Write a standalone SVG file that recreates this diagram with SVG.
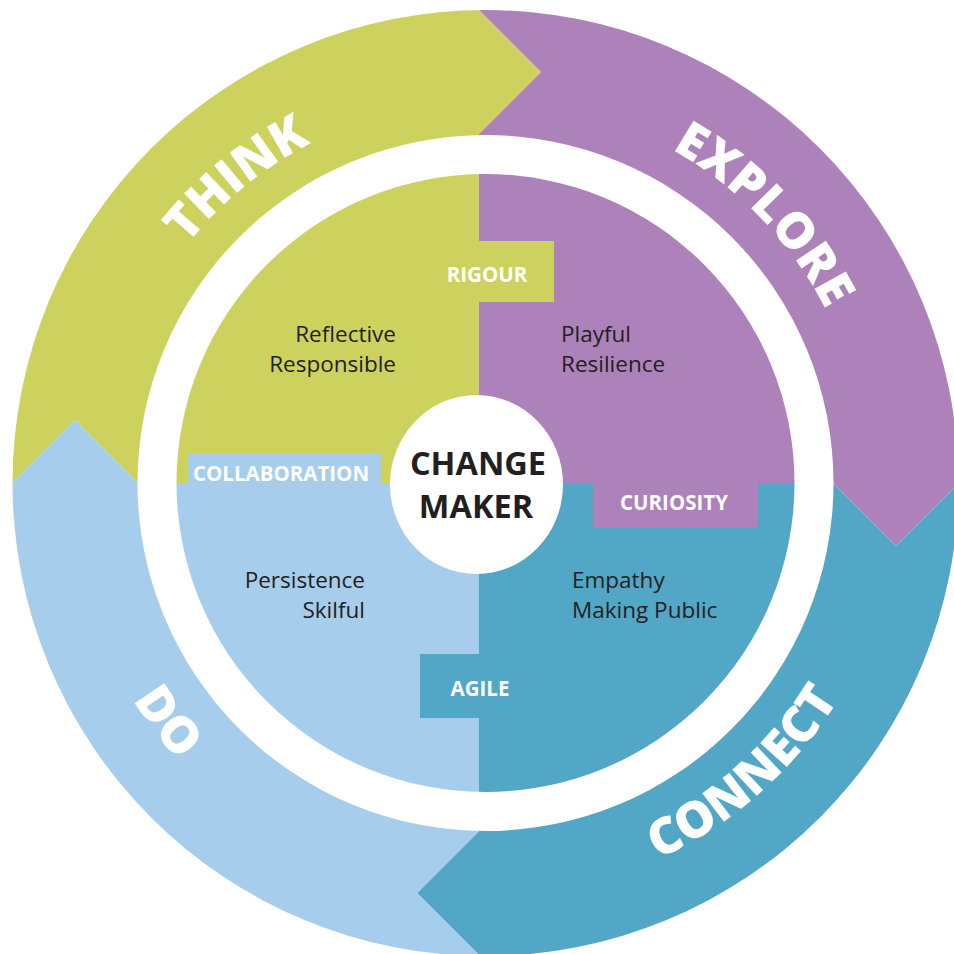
<svg xmlns="http://www.w3.org/2000/svg" width="954" height="954" viewBox="0 0 954 954">
<style>
.g{fill:#CDD25F}.p{fill:#AD81B9}.lb{fill:#A6CDEB}.db{fill:#52A6C6}
.big{font-family:"Open Sans","Liberation Sans",sans-serif;font-weight:800;font-size:50px;fill:#fff;text-anchor:middle}
.lab{font-family:"Open Sans","Liberation Sans",sans-serif;font-weight:700;font-size:20.5px;fill:#fff;text-anchor:middle}
.tr{font-family:"Open Sans","Liberation Sans",sans-serif;font-size:22.5px;fill:#231F20}
.end{text-anchor:end}
.cm{font-family:"Open Sans","Liberation Sans",sans-serif;font-weight:700;font-size:32.5px;fill:#231F20;text-anchor:middle}
</style>
<defs>
<clipPath id="outer"><circle cx="485.5" cy="483" r="473"/></clipPath>
<clipPath id="inner"><circle cx="485.5" cy="483" r="309"/></clipPath>
<path id="topArc" d="M103.5 483 A382 382 0 0 1 867.5 483"/>
<path id="botArc" d="M71.5 483 A414 414 0 0 0 899.5 483"/>
</defs>
<rect width="954" height="954" fill="#fff"/>
<g id="ring">
<g id="think"><polygon class="g" clip-path="url(#outer)" points="479,483 138,483 75,420 12,483 -100,483 -100,-100 369,-100 541,72 479,134"/></g>
<g id="explore"><polygon class="p" clip-path="url(#outer)" points="479,483 479,134 541,72 369,-100 1100,-100 1100,483 959,483 896,546 833,483"/></g>
<g id="connect"><polygon class="db" clip-path="url(#outer)" points="479,483 833,483 896,546 959,483 1100,483 1100,1100 624,1100 417,893 479,831"/></g>
<g id="do"><polygon class="lb" clip-path="url(#outer)" points="479,483 479,831 417,893 624,1100 -100,1100 -100,483 12,483 75,420 138,483"/></g>
<circle cx="485.5" cy="483" r="348" fill="#fff"/>
<text class="big"><textPath href="#topArc" startOffset="28.2%">THINK</textPath></text>
<text class="big"><textPath href="#topArc" startOffset="75.6%">EXPLORE</textPath></text>
<text class="big"><textPath href="#botArc" startOffset="20.5%">DO</textPath></text>
<text class="big"><textPath href="#botArc" startOffset="73.1%">CONNECT</textPath></text>
</g>
<g id="quadrants" clip-path="url(#inner)">
<rect class="g" x="100" y="100" width="379" height="383"/>
<rect class="p" x="479" y="100" width="421" height="383"/>
<rect class="lb" x="100" y="483" width="379" height="417"/>
<rect class="db" x="479" y="483" width="421" height="417"/>
</g>
<g id="rigour"><rect class="g" x="420" y="241" width="134" height="61"/><text class="lab" x="487" y="282">RIGOUR</text></g>
<g id="curiosity"><rect class="p" x="593" y="483" width="165" height="44"/><text class="lab" x="674" y="510">CURIOSITY</text></g>
<g id="collaboration"><rect class="lb" x="188" y="453" width="193" height="30"/><text class="lab" x="281" y="481">COLLABORATION</text></g>
<g id="agile"><rect class="db" x="420" y="654" width="120" height="64"/><text class="lab" x="480" y="696">AGILE</text></g>
<g id="traits">
<text class="tr end" x="396" y="342">Reflective</text>
<text class="tr end" x="396" y="372">Responsible</text>
<text class="tr" x="561" y="342">Playful</text>
<text class="tr" x="561" y="372">Resilience</text>
<text class="tr end" x="365" y="588">Persistence</text>
<text class="tr end" x="365" y="618">Skilful</text>
<text class="tr" x="572" y="588">Empathy</text>
<text class="tr" x="572" y="618">Making Public</text>
</g>
<g id="changemaker">
<ellipse cx="476.5" cy="484.5" rx="86.5" ry="89.5" fill="#fff"/>
<text class="cm" x="478" y="475">CHANGE</text>
<text class="cm" x="476" y="518">MAKER</text>
</g>
<g id="connectors"/>
</svg>
